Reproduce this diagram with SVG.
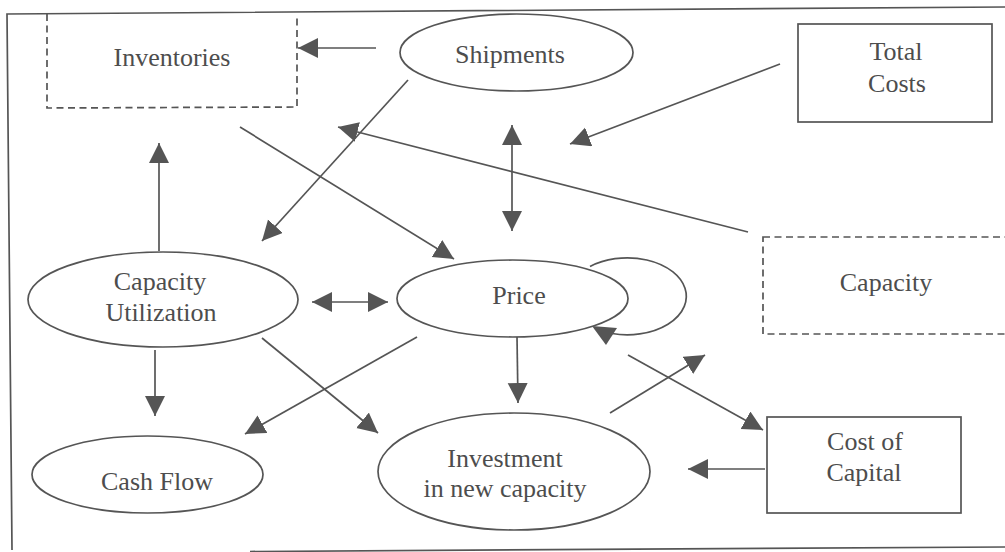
<svg xmlns="http://www.w3.org/2000/svg" width="1005" height="552" viewBox="0 0 1005 552">
  <style>
    .shape { fill: none; stroke: #555; stroke-width: 1.7; }
    .dashed { fill: none; stroke: #555; stroke-width: 1.7; stroke-dasharray: 7 4.5; }
    .edge { fill: none; stroke: #555; stroke-width: 1.7; marker-end: url(#head); }
    .both { marker-start: url(#head); }
    .label { font-family: "Liberation Serif", "Times New Roman", serif; font-size: 26px; fill: #4d4d4d; text-anchor: middle; }
  </style>
  <defs>
    <marker id="head" markerUnits="userSpaceOnUse" markerWidth="21" markerHeight="21" refX="20" refY="10" orient="auto-start-reverse">
      <path d="M0,0 L20,10 L0,20 z" fill="#555"/>
    </marker>
  </defs>
  <rect width="1005" height="552" fill="#fff"/>

  <!-- outer frame -->
  <g id="frame" class="shape">
    <path d="M12,550 L7,14 L1005,7"/>
    <path d="M250,551.5 L1005,547"/>
  </g>

  <!-- nodes -->
  <g id="inventories">
    <path class="dashed" d="M47,14 L47,108 L297,107 L297,14"/>
    <text class="label" x="172" y="66">Inventories</text>
  </g>
  <g id="shipments">
    <ellipse class="shape" cx="516.5" cy="52.5" rx="116.5" ry="38.5"/>
    <text class="label" x="510" y="63">Shipments</text>
  </g>
  <g id="total-costs">
    <rect class="shape" x="798" y="24" width="194" height="98"/>
    <text class="label" x="896" y="60">Total</text>
    <text class="label" x="897" y="92">Costs</text>
  </g>
  <g id="capacity">
    <rect class="dashed" x="763" y="237" width="262" height="97"/>
    <text class="label" x="886" y="291">Capacity</text>
  </g>
  <g id="capacity-utilization">
    <ellipse class="shape" cx="163" cy="299.5" rx="135" ry="47.5"/>
    <text class="label" x="160" y="290">Capacity</text>
    <text class="label" x="161" y="321">Utilization</text>
  </g>
  <g id="price">
    <ellipse class="shape" cx="512.5" cy="298.5" rx="115.5" ry="38.5"/>
    <text class="label" x="519" y="304">Price</text>
  </g>
  <g id="cash-flow">
    <ellipse class="shape" cx="147.5" cy="474.5" rx="115.5" ry="38.5"/>
    <text class="label" x="157" y="490">Cash Flow</text>
  </g>
  <g id="investment">
    <ellipse class="shape" cx="514" cy="471.5" rx="136" ry="58.5"/>
    <text class="label" x="505" y="467">Investment</text>
    <text class="label" x="505" y="497">in new capacity</text>
  </g>
  <g id="cost-of-capital">
    <rect class="shape" x="767" y="417" width="194" height="96"/>
    <text class="label" x="865" y="450">Cost of</text>
    <text class="label" x="864" y="481">Capital</text>
  </g>

  <!-- connectors -->
  <g id="connectors">
    <line class="edge" x1="376" y1="48" x2="298" y2="48"/>
    <line class="edge" x1="408" y1="80" x2="262" y2="241"/>
    <line class="edge" x1="780" y1="64" x2="570" y2="144"/>
    <line class="edge" x1="748" y1="232" x2="338" y2="127"/>
    <line class="edge" x1="240" y1="127" x2="454" y2="259"/>
    <line class="edge both" x1="512" y1="125" x2="512" y2="231"/>
    <line class="edge" x1="159" y1="251" x2="159" y2="143"/>
    <line class="edge both" x1="312" y1="302" x2="388" y2="302"/>
    <line class="edge" x1="155" y1="350" x2="155" y2="416"/>
    <line class="edge" x1="417" y1="337" x2="245" y2="434"/>
    <line class="edge" x1="262" y1="338" x2="378" y2="433"/>
    <line class="edge" x1="517" y1="337" x2="518" y2="403"/>
    <line class="edge" x1="610" y1="413" x2="705" y2="355"/>
    <line class="edge" x1="628" y1="355" x2="763" y2="430"/>
    <line class="edge" x1="765" y1="469" x2="688" y2="469"/>
    <!-- price feedback loop -->
    <path class="shape" d="M590,266.5 A59,38.5 0 1 1 612,333.5"/>
    <polygon points="592,326 617,328 606,345" fill="#555"/>
  </g>
</svg>
